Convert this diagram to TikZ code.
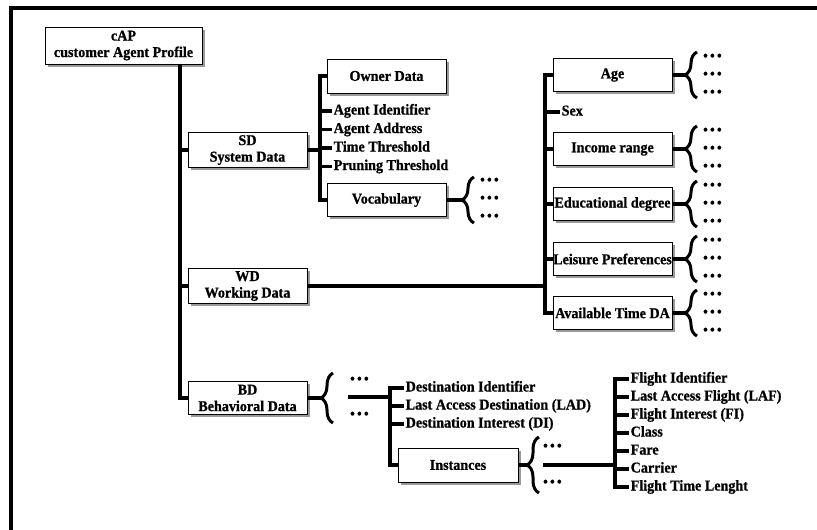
\documentclass[tikz,border=0pt]{standalone}
\usepackage{fontspec}
\setmainfont{Liberation Serif}[FakeStretch=0.94,BoldFeatures={FakeBold=0.8}]
\usetikzlibrary{shadows,decorations.pathreplacing}
\begin{document}
\begin{tikzpicture}[x=1pt,y=-1pt,
  box/.style={draw,line width=0.7pt,fill=white,inner sep=0pt,align=center,
    minimum width=119pt,minimum height=34pt,font=\fontsize{15}{16.5}\selectfont\bfseries,
    drop shadow={shadow xshift=2.5pt,shadow yshift=-2.5pt,fill=gray!80,opacity=1}},
  item/.style={anchor=west,inner sep=1.5pt,text height=10pt,text depth=3pt,
    font=\fontsize{15}{16.5}\selectfont\bfseries},
  more/.style={anchor=west,inner sep=0pt,font=\fontsize{14}{16}\selectfont\bfseries},
  conn/.style={line width=3.2pt},
  curly/.style={line width=3pt,decorate,decoration={brace,amplitude=12pt}}]
\useasboundingbox (0,0) rectangle (817,530);
\draw[line width=3.8pt] (11,530) -- (11,8) -- (817,8);
\node[box,minimum width=157pt,minimum height=37pt] (cap) at (123.5,45.5) {cAP\\customer Agent Profile};
\node[box,minimum height=35pt] (sd) at (247.5,150) {SD\\System Data};
\node[box,minimum height=35pt] (wd) at (247.5,286) {WD\\Working Data};
\node[box,minimum height=33pt] (bd) at (247.5,398) {BD\\Behavioral Data};
\node[box] (owner) at (386.5,76) {Owner Data};
\node[item] (agentid) at (332,111) {Agent Identifier};
\node[item] (agentaddr) at (332,129.5) {Agent Address};
\node[item] (timethr) at (332,148) {Time Threshold};
\node[item] (prunthr) at (332,166.5) {Pruning Threshold};
\node[box,minimum height=33pt] (vocab) at (386.5,200) {Vocabulary};
\node[more] (vocdots1) at (480,181) {•\hspace{2.3pt}•\hspace{2.3pt}•};
\node[more] (vocdots2) at (480,199) {•\hspace{2.3pt}•\hspace{2.3pt}•};
\node[more] (vocdots3) at (480,217) {•\hspace{2.3pt}•\hspace{2.3pt}•};
\node[box,minimum height=33pt] (age) at (612.5,75) {Age};
\node[item] (sex) at (560,112) {Sex};
\node[box,minimum height=33pt] (income) at (612.5,149) {Income range};
\node[box,minimum height=33pt] (edu) at (612.5,204) {Educational degree};
\node[box,minimum height=33pt] (leisure) at (612.5,259) {Leisure Preferences};
\node[box,minimum height=33pt] (avail) at (612.5,313) {Available Time DA};
\node[more] (agedots1) at (703,57) {•\hspace{2.3pt}•\hspace{2.3pt}•};
\node[more] (agedots2) at (703,75) {•\hspace{2.3pt}•\hspace{2.3pt}•};
\node[more] (agedots3) at (703,93) {•\hspace{2.3pt}•\hspace{2.3pt}•};
\node[more] (incdots1) at (703,131) {•\hspace{2.3pt}•\hspace{2.3pt}•};
\node[more] (incdots2) at (703,149) {•\hspace{2.3pt}•\hspace{2.3pt}•};
\node[more] (incdots3) at (703,167) {•\hspace{2.3pt}•\hspace{2.3pt}•};
\node[more] (edudots1) at (703,186) {•\hspace{2.3pt}•\hspace{2.3pt}•};
\node[more] (edudots2) at (703,204) {•\hspace{2.3pt}•\hspace{2.3pt}•};
\node[more] (edudots3) at (703,222) {•\hspace{2.3pt}•\hspace{2.3pt}•};
\node[more] (leidots1) at (703,241) {•\hspace{2.3pt}•\hspace{2.3pt}•};
\node[more] (leidots2) at (703,259) {•\hspace{2.3pt}•\hspace{2.3pt}•};
\node[more] (leidots3) at (703,277) {•\hspace{2.3pt}•\hspace{2.3pt}•};
\node[more] (avadots1) at (703,295) {•\hspace{2.3pt}•\hspace{2.3pt}•};
\node[more] (avadots2) at (703,313) {•\hspace{2.3pt}•\hspace{2.3pt}•};
\node[more] (avadots3) at (703,331) {•\hspace{2.3pt}•\hspace{2.3pt}•};
\node[more] (bddots1) at (350,380) {•\hspace{2.3pt}•\hspace{2.3pt}•};
\node[more] (bddots2) at (350,415) {•\hspace{2.3pt}•\hspace{2.3pt}•};
\node[item] (destid) at (404,388) {Destination Identifier};
\node[item] (lad) at (404,406) {Last Access Destination (LAD)};
\node[item] (di) at (404,424) {Destination Interest (DI)};
\node[box,minimum width=120pt] (inst) at (458,465) {Instances};
\node[more] (instdots1) at (543,447) {•\hspace{2.3pt}•\hspace{2.3pt}•};
\node[more] (instdots2) at (543,483) {•\hspace{2.3pt}•\hspace{2.3pt}•};
\node[item] (flid) at (629,379) {Flight Identifier};
\node[item] (laf) at (629,397) {Last Access Flight (LAF)};
\node[item] (fi) at (629,415) {Flight Interest (FI)};
\node[item] (class) at (629,433) {Class};
\node[item] (fare) at (629,451) {Fare};
\node[item] (carrier) at (629,469) {Carrier};
\node[item] (fltime) at (629,487) {Flight Time Lenght};
\coordinate (spine) at (180,398);
\coordinate (sdbr) at (320,150);
\coordinate (voctip) at (463,200);
\coordinate (wdbr) at (545,286);
\coordinate (wdtip) at (685,0);
\coordinate (bdtip) at (321,398);
\coordinate (bdline) at (348,397);
\coordinate (bdbr) at (390,397);
\coordinate (insttip) at (527,465);
\coordinate (instline) at (543,465);
\coordinate (flbr) at (615,465);
\draw[conn] (cap.south -| spine) -- (spine) -- (bd.west);
\draw[conn] (sd.west) -- (sd.west -| spine);
\draw[conn] (wd.west) -- (wd.west -| spine);
\draw[conn] (sd.east) -- (sdbr);
\draw[conn] (owner.west) -- (owner.west -| sdbr) -- (vocab.west -| sdbr) -- (vocab.west);
\draw[conn] (agentid.west -| sdbr) -- (agentid.west);
\draw[conn] (agentaddr.west -| sdbr) -- (agentaddr.west);
\draw[conn] (timethr.west -| sdbr) -- (timethr.west);
\draw[conn] (prunthr.west -| sdbr) -- (prunthr.west);
\draw[conn] (vocab.east) -- (voctip);
\draw[curly] (474,223) -- (474,177);
\draw[conn] (wd.east) -- (wdbr);
\draw[conn] (age.west) -- (age.west -| wdbr) -- (avail.west -| wdbr) -- (avail.west);
\draw[conn] (sex.west -| wdbr) -- (sex.west);
\draw[conn] (income.west -| wdbr) -- (income.west);
\draw[conn] (edu.west -| wdbr) -- (edu.west);
\draw[conn] (leisure.west -| wdbr) -- (leisure.west);
\draw[conn] (age.east) -- (age.east -| wdtip);
\draw[conn] (income.east) -- (income.east -| wdtip);
\draw[conn] (edu.east) -- (edu.east -| wdtip);
\draw[conn] (leisure.east) -- (leisure.east -| wdtip);
\draw[conn] (avail.east) -- (avail.east -| wdtip);
\draw[curly] (697,98) -- (697,52);
\draw[curly] (697,172) -- (697,126);
\draw[curly] (697,227) -- (697,181);
\draw[curly] (697,282) -- (697,236);
\draw[curly] (697,336) -- (697,290);
\draw[conn] (bd.east) -- (bdtip);
\draw[curly] (333,423) -- (333,373);
\draw[conn] (bdline) -- (bdbr);
\draw[conn] (destid.west) -- (destid.west -| bdbr) -- (inst.west -| bdbr) -- (inst.west);
\draw[conn] (lad.west -| bdbr) -- (lad.west);
\draw[conn] (di.west -| bdbr) -- (di.west);
\draw[conn] (inst.east) -- (insttip);
\draw[curly] (539,493) -- (539,437);
\draw[conn] (instline) -- (flbr);
\draw[conn] (flid.west) -- (flid.west -| flbr) -- (fltime.west -| flbr) -- (fltime.west);
\draw[conn] (laf.west -| flbr) -- (laf.west);
\draw[conn] (fi.west -| flbr) -- (fi.west);
\draw[conn] (class.west -| flbr) -- (class.west);
\draw[conn] (fare.west -| flbr) -- (fare.west);
\draw[conn] (carrier.west -| flbr) -- (carrier.west);
\end{tikzpicture}
\end{document}
